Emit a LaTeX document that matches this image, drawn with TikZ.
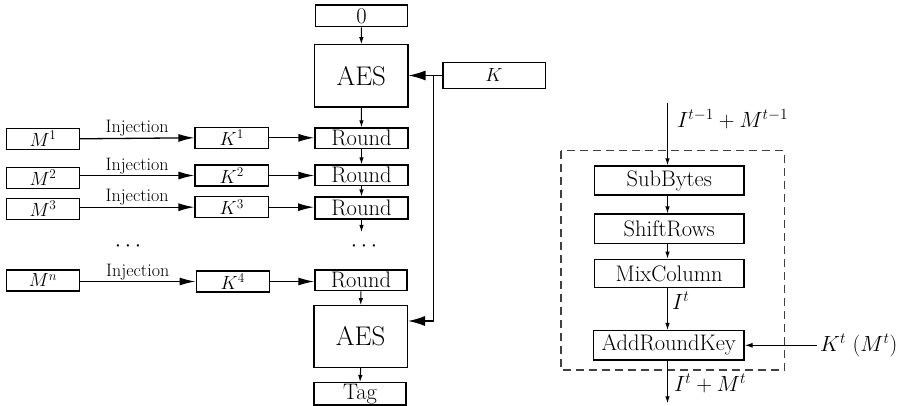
\RequirePackage{fix-cm}
\documentclass[tikz,border=0pt]{standalone}
\usetikzlibrary{arrows.meta}
\begin{document}
\begin{tikzpicture}[x=1pt,y=-1pt,
  box/.style={draw, line width=1.3pt, inner sep=0pt, anchor=center},
  mainfont/.style={font=\fontsize{22.5}{26}\selectfont},
  lblfont/.style={font=\fontsize{22}{26}\selectfont},
  smallfont/.style={font=\fontsize{19}{22}\selectfont},
  injfont/.style={font=\fontsize{18}{21}\selectfont},
  aesfont/.style={font=\fontsize{27}{30}\selectfont},
  bigarr/.style={line width=1.3pt, -{Latex[length=16pt,width=8pt]}},
  hugearr/.style={line width=1.3pt, -{Latex[length=17pt,width=10pt]}},
  smallarr/.style={line width=1pt, -{Latex[length=7pt,width=4.5pt]}},
  lbl/.style={inner sep=0pt}
]
\useasboundingbox (0,0) rectangle (903,406);

% left column
\node[box, mainfont, minimum width=91.6pt, minimum height=21.7pt] (zero) at (361.5,16) {0};
\node[box, aesfont, minimum width=93.3pt, minimum height=62.3pt] (aes1) at (361.3,76) {AES};
\node[box, smallfont, minimum width=102.3pt, minimum height=25.7pt] (key) at (494,75.5) {$K$};

\node[box, smallfont, minimum width=72.6pt, minimum height=21pt] (m1) at (43,138.8) {$M^1$};
\node[box, smallfont, minimum width=72.6pt, minimum height=21pt] (m2) at (43,177.8) {$M^2$};
\node[box, smallfont, minimum width=72.6pt, minimum height=21pt] (m3) at (43,208.8) {$M^3$};
\node[box, smallfont, minimum width=72.6pt, minimum height=21pt] (mn) at (43,280.5) {$M^n$};

\node[box, smallfont, minimum width=73.3pt, minimum height=21pt] (k1) at (231.7,137.8) {$K^1$};
\node[box, smallfont, minimum width=73.3pt, minimum height=21pt] (k2) at (231.7,175.5) {$K^2$};
\node[box, smallfont, minimum width=73.3pt, minimum height=21pt] (k3) at (231.7,207.2) {$K^3$};
\node[box, smallfont, minimum width=73.3pt, minimum height=21pt] (k4) at (232.8,281.5) {$K^4$};

\node[box, mainfont, minimum width=93pt, minimum height=20.7pt] (r1) at (361.5,138.3) {Round};
\node[box, mainfont, minimum width=93pt, minimum height=20.7pt] (r2) at (361.5,175.3) {Round};
\node[box, mainfont, line width=2pt, minimum width=93pt, minimum height=21.5pt] (r3) at (361.5,208.2) {Round};
\node[box, mainfont, minimum width=92pt, minimum height=20.7pt] (rn) at (361,280.3) {Round};

\node[box, aesfont, minimum width=93.3pt, minimum height=61.6pt] (aes2) at (360.7,336.5) {AES};
\node[box, mainfont, minimum width=92pt, minimum height=22.3pt] (tag) at (360,393.8) {Tag};

\node[lbl, mainfont] (dotsl) at (128,247) {$\cdots$};
\node[lbl, mainfont] (dotsr) at (364,247) {$\cdots$};

% connectors left
\draw[smallarr] (zero.south) -- (aes1.north);
\draw[smallarr] (aes1.south) -- (r1.north);
\draw[smallarr] (r1.south) -- (r2.north);
\draw[smallarr] (r2.south) -- (r3.north);
\coordinate (r3end) at (361.5,232);
\draw[smallarr] (r3.south) -- (r3end);
\draw[smallarr] (rn.south) -- (aes2.north);
\draw[smallarr] (aes2.south) -- (tag.north);

\draw[bigarr] (m1.east) -- node[lbl, injfont, above=1pt] (inj1) {Injection} (k1.west);
\draw[bigarr] (m2.east |- k2.west) -- node[lbl, injfont, above=1pt] (inj2) {Injection} (k2.west);
\draw[bigarr] (m3.east |- k3.west) -- node[lbl, injfont, above=1pt] (inj3) {Injection} (k3.west);
\draw[bigarr] (mn.east |- k4.west) -- node[lbl, injfont, above=1pt] (inj4) {Injection} (k4.west);

\draw[bigarr] (k1.east) -- (r1.west |- k1.east);
\draw[bigarr] (k2.east) -- (r2.west |- k2.east);
\draw[bigarr] (k3.east) -- (r3.west |- k3.east);
\draw[bigarr] (k4.east) -- (rn.west |- k4.east);

\coordinate (kj) at (433.3,75.5);
\coordinate (kb) at (433.3,321);
\draw[hugearr] (key.west) -- (aes1.east |- key.west);
\draw[hugearr, line width=1.4pt] (kj) -- (kb) -- (aes2.east |- kb);

% right diagram
\draw[line width=1.2pt, draw=black!75, dash pattern=on 8pt off 5pt] (561,150.7) rectangle (784.3,370);
\node[box, mainfont, minimum width=149.7pt, minimum height=29pt] (sb) at (669.2,180.5) {SubBytes};
\node[box, mainfont, minimum width=149.7pt, minimum height=29.3pt] (sr) at (669.2,228.7) {ShiftRows};
\node[box, mainfont, minimum width=149.7pt, minimum height=28.4pt] (mc) at (669.2,273.5) {MixColumn};
\node[box, mainfont, minimum width=150.7pt, minimum height=29.3pt] (ark) at (668.7,345.3) {AddRoundKey};

\coordinate (in) at (667.5,103.3);
\coordinate (out) at (667.5,403.3);
\coordinate (kin) at (816.7,345.3);
\draw[smallarr] (in) -- (in |- sb.north);
\draw[smallarr] (sb.south -| in) -- (sr.north -| in);
\draw[smallarr] (sr.south -| in) -- (mc.north -| in);
\draw[smallarr] (mc.south -| in) -- (ark.north -| in);
\draw[smallarr] (ark.south -| in) -- (out);
\draw[line width=1pt, -{Latex[length=8pt,width=5pt]}] (kin) -- (ark.east);
\node[lbl, lblfont, anchor=west] (lin) at (677,119) {$I^{t-1}+M^{t-1}$};
\node[lbl, lblfont, anchor=west] (lit) at (672,301) {$I^t$};
\node[lbl, lblfont, anchor=west] (lout) at (674,383) {$I^t+M^t$};
\node[lbl, lblfont, anchor=west] (lk) at (820,345.3) {$K^t\ (M^t)$};
\end{tikzpicture}
\end{document}
